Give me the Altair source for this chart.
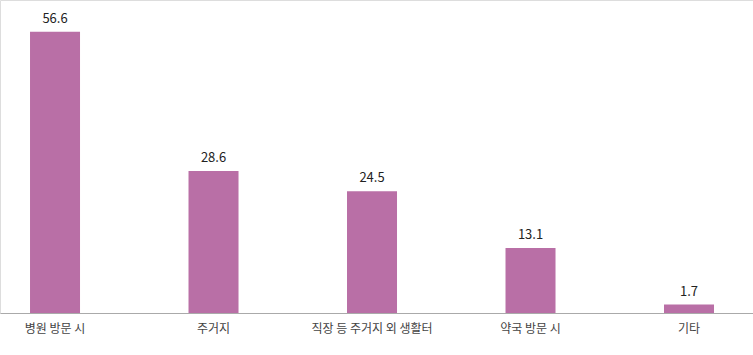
import altair as alt
import pandas as pd

categories = ["병원 방문 시", "주거지", "직장 등 주거지 외 생활터", "약국 방문 시", "기타"]
values = [56.6, 28.6, 24.5, 13.1, 1.7]
labels = ["56.6", "28.6", "24.5", "13.1", "1.7"]

df = pd.DataFrame({"cat": categories, "val": values, "lab": labels})

x = alt.X("cat:N", sort=categories, title=None,
          scale=alt.Scale(paddingInner=0.6845, paddingOuter=0.2177, align=0.435),
          axis=alt.Axis(labelAngle=0, labelFont="Noto Sans CJK KR", labelFontSize=12,
                        labelColor="#444444", labelPadding=10, ticks=False,
                        domainColor="#aaaaaa", domainWidth=1))
y = alt.Y("val:Q", title=None, scale=alt.Scale(domain=[0, 63], nice=False, zero=True),
          axis=None)

bars = alt.Chart(df).mark_bar(color="#b96fa6").encode(x=x, y=y)
text = alt.Chart(df).mark_text(dy=-13, font="Noto Sans CJK KR", fontSize=13,
                               color="#222222").encode(x=x, y=y, text="lab:N")

chart = (bars + text).properties(
    width=753, height=313, autosize=alt.AutoSizeParams(type="none"),
    padding={"left": 0, "top": 0, "right": 0, "bottom": 42}
).configure_view(strokeWidth=0, stroke="transparent").configure(background="white")

chart.save("out.html", embed_options={"renderer": "svg", "actions": False})
